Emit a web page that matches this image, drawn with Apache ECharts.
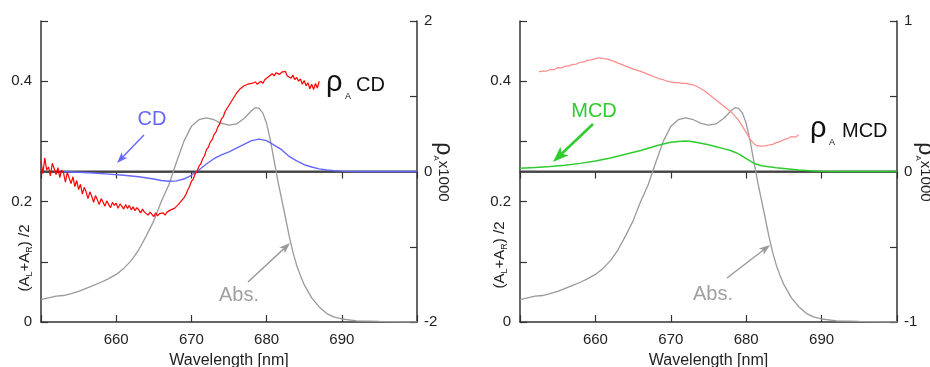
<!DOCTYPE html>
<html><head><meta charset="utf-8">
<script src="https://cdn.jsdelivr.net/npm/echarts@6/dist/echarts.min.js"></script>
<style>html,body{margin:0;padding:0;background:#fff}#c{width:930px;height:367px}</style>
</head><body><div id="c"></div>
<script>
// ---- data ----
const xTicks = [660, 670, 680, 690];
// absorbance (A_L+A_R)/2, same in both panels (left axis)
const absWl = [650,651,652,652.15,652.25,653,654,655,656,657,658,659,660,661,662,663,664,665,666,667,668,669,670,671,672,673,674,675,676,677,678,678.5,679,679.5,680,680.5,681,681.5,682,682.5,683,683.5,684,684.5,685,686,687,688,689,690,692,695,700];
const absVal = [0.037,0.040,0.043,0.044,0.041,0.044,0.047,0.051,0.056,0.061,0.066,0.072,0.079,0.089,0.102,0.120,0.143,0.168,0.200,0.228,0.265,0.300,0.325,0.336,0.339,0.336,0.330,0.327,0.329,0.338,0.351,0.356,0.355,0.347,0.330,0.302,0.268,0.234,0.204,0.174,0.143,0.116,0.094,0.077,0.062,0.040,0.025,0.014,0.008,0.005,0.002,0.001,0.000];
// CD (right axis, x1000 scale)
const cdWl = [653,655,657,659,661,663,665,666,667,668,669,670,671,672,673,674,675,676,677,678,679,680,681,682,683,684,685,686,687,688,689,690,692,700];
const cdVal = [0,-0.01,-0.02,-0.035,-0.05,-0.07,-0.1,-0.12,-0.13,-0.125,-0.1,-0.05,0.02,0.1,0.17,0.22,0.26,0.31,0.36,0.41,0.43,0.41,0.35,0.29,0.2,0.14,0.09,0.06,0.035,0.02,0.012,0.005,0,0];
// rho_A CD, sampled every 0.25 nm from 650 nm
const rhoCdStart = 650, rhoCdStep = 0.25;
const rhoCdVal = [0.14,-0.03,0.18,0.02,0.06,-0.06,0.11,0.04,-0.04,
 0.05,-0.08,0.02,-0.02,-0.14,-0.01,-0.09,-0.16,
 -0.07,-0.20,-0.12,-0.24,-0.17,-0.30,-0.21,-0.27,
 -0.36,-0.27,-0.33,-0.41,-0.32,-0.38,-0.44,-0.36,
 -0.41,-0.46,-0.39,-0.44,-0.48,-0.41,-0.45,-0.42,
 -0.49,-0.43,-0.46,-0.50,-0.44,-0.49,-0.45,-0.51,
 -0.47,-0.52,-0.48,-0.51,-0.55,-0.50,-0.54,-0.52,
 -0.58,-0.54,-0.57,-0.60,-0.55,-0.59,-0.56,-0.58,
 -0.55,-0.58,-0.54,-0.55,-0.51,-0.53,-0.49,-0.48,
 -0.44,-0.44,-0.38,-0.35,-0.31,-0.25,-0.20,-0.13,
 -0.10,-0.03,0.00,0.07,0.10,0.17,0.21,0.29,
 0.32,0.39,0.42,0.49,0.52,0.59,0.63,0.70,
 0.73,0.80,0.82,0.88,0.90,0.96,0.98,1.04,
 1.05,1.10,1.11,1.14,1.13,1.16,1.14,1.17,
 1.15,1.19,1.16,1.17,1.20,1.17,1.22,1.20,
 1.26,1.24,1.30,1.27,1.31,1.33,1.29,1.32,
 1.30,1.33,1.27,1.29,1.24,1.28,1.22,1.25,
 1.20,1.23,1.16,1.21,1.14,1.18,1.10,1.16,
 1.09,1.17,1.11,1.20];
// MCD (right axis of right panel)
const mcdWl = [650,652,654,656,658,660,662,664,666,668,669,670,671,672,673,674,675,676,677,678,679,680,681,682,683,684,685,686,687,688,689,690,692,700];
const mcdVal = [0.022,0.027,0.033,0.042,0.054,0.07,0.09,0.115,0.14,0.17,0.183,0.195,0.2,0.202,0.197,0.188,0.178,0.165,0.152,0.138,0.117,0.085,0.055,0.038,0.031,0.025,0.02,0.015,0.01,0.007,0.003,0.001,0,0];
// rho_A MCD, sampled every 0.5 nm from 652.5 nm
const rhoMcdStart = 652.5, rhoMcdStep = 0.5;
const rhoMcdVal = [0.662,0.668,0.666,0.678,0.676,0.69,0.688,0.70,0.702,0.712,
 0.714,0.726,0.728,0.74,0.742,0.75,0.756,0.75,0.748,0.74,
 0.732,0.72,0.712,0.70,0.692,0.68,0.674,0.665,0.655,0.645,
 0.636,0.625,0.616,0.61,0.60,0.596,0.59,0.59,0.586,0.585,
 0.58,0.575,0.565,0.55,0.535,0.515,0.495,0.475,0.455,0.435,
 0.415,0.395,0.37,0.34,0.30,0.26,0.215,0.185,0.17,0.168,
 0.17,0.176,0.18,0.192,0.198,0.212,0.218,0.232,0.228,0.245];
// zero reference line
const zeroWl = [650, 700];
const zeroVal = [0, 0];

// ---- helpers ----
const zip = (xs, ys) => xs.map((x, i) => [x, ys[i]]);
const grid = (start, step, ys) => ys.map((y, i) => [start + i * step, y]);
const FONT = 'Liberation Sans, Arial, Helvetica, sans-serif';
const AX = '#333';

function xAxes(gi) {
  const common = {gridIndex: gi, type: 'value', min: 650, max: 700, interval: 10,
    axisLine: {show: true, lineStyle: {color: AX, width: 1.5}},
    axisTick: {show: true, inside: true, length: 7, lineStyle: {color: AX, width: 1.2}},
    splitLine: {show: false}};
  return [
    Object.assign({}, common, {position: 'bottom',
      axisLabel: {margin: 10, fontSize: 15, color: '#222', fontFamily: FONT,
        formatter: v => xTicks.indexOf(v) >= 0 ? String(v) : ''},
      name: 'Wavelength [nm]', nameLocation: 'middle', nameGap: 31, nameMoveOverlap: false,
      nameTextStyle: {fontSize: 16, color: '#222', fontFamily: FONT}}),
    Object.assign({}, common, {position: 'top', axisLabel: {show: false}})
  ];
}
function yAxes(gi, rmax, rint) {
  return [
    {gridIndex: gi, type: 'value', position: 'left', min: 0, max: 0.5, interval: 0.1,
      axisLine: {show: true, lineStyle: {color: AX, width: 1.5}},
      axisTick: {show: true, inside: true, length: 7, lineStyle: {color: AX, width: 1.2}},
      splitLine: {show: false},
      axisLabel: {margin: 9, fontSize: 15, color: '#222', fontFamily: FONT,
        formatter: v => { const k = Math.round(v * 10); return (k % 2 === 0 && k < 5) ? (k === 0 ? '0' : (k / 10).toFixed(1)) : ''; }}},
    {gridIndex: gi, type: 'value', position: 'right', min: -rmax, max: rmax, interval: rint,
      axisLine: {show: true, lineStyle: {color: AX, width: 1.5}},
      axisTick: {show: true, inside: true, length: 7, lineStyle: {color: AX, width: 1.2}},
      splitLine: {show: false},
      axisLabel: {margin: 7, fontSize: 15, color: '#222', fontFamily: FONT,
        formatter: v => (Math.abs(v) < 1e-9 || Math.abs(Math.abs(v) - rmax) < 1e-9) ? String(Math.round(v)) : ''}}
  ];
}
function line(data, xi, yi, color, width) {
  return {type: 'line', xAxisIndex: xi, yAxisIndex: yi, data: data, showSymbol: false,
    symbol: 'none', silent: true, animation: false, clip: true,
    lineStyle: {color: color, width: width}};
}
function arrow(x1, y1, x2, y2, color, w, hl, hw) {
  const a = Math.atan2(y2 - y1, x2 - x1), c = Math.cos(a), s = Math.sin(a);
  const bx = x2 - hl * c, by = y2 - hl * s;
  const nx = bx + hl * 0.25 * c, ny = by + hl * 0.25 * s;
  const px = -s * hw / 2, py = c * hw / 2;
  return [
    {type: 'line', silent: true, shape: {x1: x1, y1: y1, x2: nx, y2: ny}, style: {stroke: color, lineWidth: w}},
    {type: 'polygon', silent: true, shape: {points: [[x2, y2], [bx + px, by + py], [nx, ny], [bx - px, by - py]]}, style: {fill: color}}
  ];
}
function txt(x, y, text, size, color, align) {
  return {type: 'text', x: x, y: y, silent: true,
    style: {text: text, fill: color, font: size + 'px ' + FONT, fontSize: size, fontFamily: FONT,
      align: align || 'left', verticalAlign: 'middle', textAlign: align || 'left', textVerticalAlign: 'middle'}};
}
function richTxt(x, y, text, rich, rot) {
  return {type: 'text', x: x, y: y, rotation: rot, silent: true,
    style: {text: text, rich: rich, fill: '#222', fontFamily: FONT,
      align: 'center', verticalAlign: 'middle', textAlign: 'center', textVerticalAlign: 'middle'}};
}
const leftNameRich = {
  n: {fontSize: 15, fontFamily: FONT, fill: '#222', lineHeight: 18},
  s: {fontSize: 9, fontFamily: FONT, fill: '#222', lineHeight: 10, verticalAlign: 'bottom'}
};
const rightNameRich = {
  r: {fontSize: 23, fontFamily: FONT, fill: '#222', lineHeight: 22},
  s: {fontSize: 8, fontFamily: FONT, fill: '#222', lineHeight: 9, verticalAlign: 'bottom'},
  n: {fontSize: 15, fontFamily: FONT, fill: '#222', lineHeight: 22}
};

const chart = echarts.init(document.getElementById('c'), null, {renderer: 'canvas'});
chart.setOption({
  backgroundColor: '#fff',
  animation: false,
  grid: [
    {left: 41, top: 21, width: 376, height: 301, containLabel: false, outerBoundsMode: 'none'},
    {left: 520, top: 21, width: 377, height: 301, containLabel: false, outerBoundsMode: 'none'}
  ],
  xAxis: xAxes(0).concat(xAxes(1)),
  yAxis: yAxes(0, 2, 1).concat(yAxes(1, 1, 0.5)),
  series: [
    line(zip(zeroWl, zeroVal), 0, 1, '#444', 2),
    line(zip(absWl, absVal), 0, 0, '#9a9a9a', 1.3),
    line(zip(cdWl, cdVal), 0, 1, '#6666ff', 1.4),
    line(grid(rhoCdStart, rhoCdStep, rhoCdVal), 0, 1, '#ff0000', 1.2),
    line(zip(zeroWl, zeroVal), 2, 3, '#444', 2),
    line(zip(absWl, absVal), 2, 2, '#9a9a9a', 1.3),
    line(grid(rhoMcdStart, rhoMcdStep, rhoMcdVal), 2, 3, '#ff8a8a', 1.2),
    line(zip(mcdWl, mcdVal), 2, 3, '#2ecc2e', 1.5)
  ],
  graphic: [].concat(
    // left panel annotations
    [txt(152, 119, 'CD', 20, '#6666ff', 'center')],
    arrow(144, 135, 117, 163, '#6666ff', 1.4, 11, 8),
    [txt(239, 295, 'Abs.', 20, '#a0a0a0', 'center')],
    arrow(248, 282, 290, 243, '#9a9a9a', 1.4, 11, 8),
    [txt(326, 83, 'ρ', 29, '#111', 'left'), txt(345, 97, 'A', 9, '#111', 'left'), txt(356, 85, 'CD', 20, '#111', 'left')],
    // right panel annotations
    [txt(594, 111, 'MCD', 20, '#2ecc2e', 'center')],
    arrow(593, 124, 553, 162, '#2ecc2e', 2.5, 16, 12),
    [txt(713, 294, 'Abs.', 20, '#a0a0a0', 'center')],
    arrow(727, 278, 770, 245, '#9a9a9a', 1.4, 11, 8),
    [txt(810, 129, 'ρ', 29, '#111', 'left'), txt(829, 143, 'A', 9, '#111', 'left'), txt(842, 131, 'MCD', 20, '#111', 'left')],
    // axis names
    [richTxt(25, 258, '{n|(A}{s|L}{n|+A}{s|R}{n|) /2}', leftNameRich, Math.PI / 2),
     richTxt(500, 255, '{n|(A}{s|L}{n|+A}{s|R}{n|) /2}', leftNameRich, Math.PI / 2),
     richTxt(443, 172, '{r|ρ}{s|A}{n|x1000}', rightNameRich, -Math.PI / 2),
     richTxt(925, 172, '{r|ρ}{s|A}{n|x1000}', rightNameRich, -Math.PI / 2)]
  )
});
</script>
</body></html>
